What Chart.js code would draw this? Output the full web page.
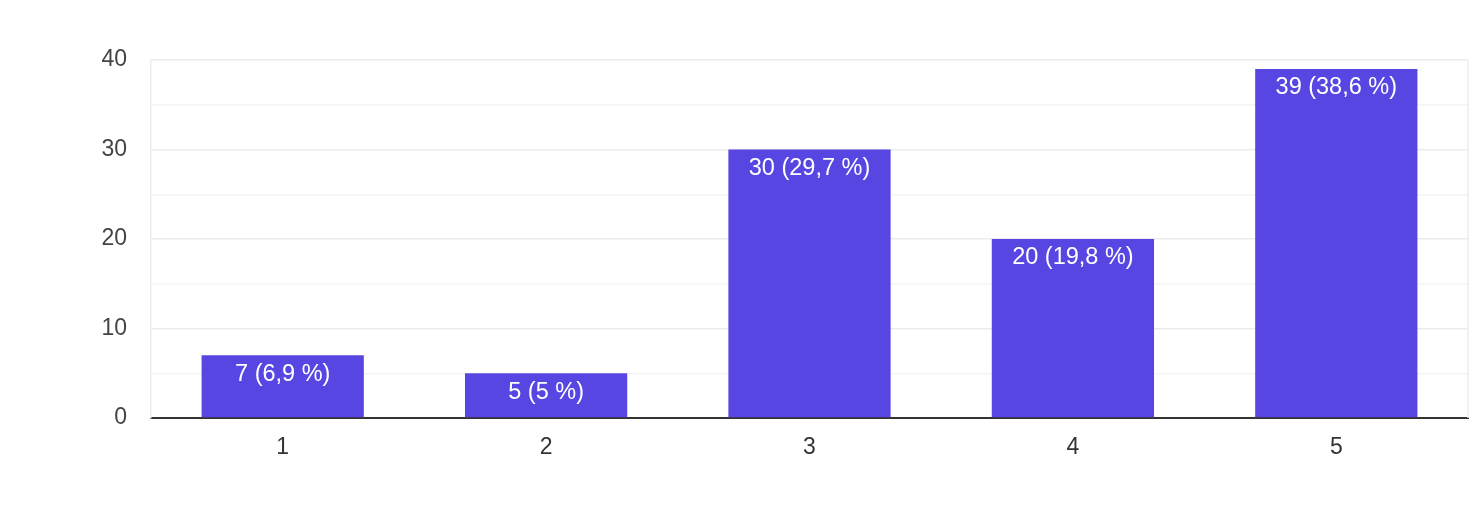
<!DOCTYPE html>
<html><head><meta charset="utf-8">
<script src="https://cdn.jsdelivr.net/npm/chart.js@4"></script>
<style>html,body{margin:0;padding:0;background:#fff;}#wrap{width:1479px;height:528px;}</style>
</head><body><div id="wrap"><canvas id="c"></canvas></div>
<script>
const categories = ['1','2','3','4','5'];
const counts = [7, 5, 30, 20, 39];
const percentLabels = ['6,9 %','5 %','29,7 %','19,8 %','38,6 %'];
const yTicks = [0, 10, 20, 30, 40];

const FONT = "'Liberation Sans', Arial, sans-serif";

const labelPlugin = {
  id: 'labels',
  afterDatasetsDraw(chart) {
    const ctx = chart.ctx;
    const meta = chart.getDatasetMeta(0);
    ctx.save();
    ctx.fillStyle = '#ffffff';
    ctx.font = '23.5px ' + FONT;
    ctx.textAlign = 'center';
    ctx.textBaseline = 'middle';
    meta.data.forEach((bar, i) => {
      ctx.fillText(counts[i] + ' (' + percentLabels[i] + ')', bar.x, bar.y + 19);
    });
    ctx.restore();
  }
};
const framePlugin = {
  id: 'frame',
  beforeDatasetsDraw(chart) {
    const a = chart.chartArea, ctx = chart.ctx;
    ctx.save();
    ctx.strokeStyle = '#ececec';
    ctx.lineWidth = 1.5;
    ctx.beginPath();
    ctx.moveTo(a.right, a.top); ctx.lineTo(a.right, a.bottom);
    ctx.stroke();
    ctx.restore();
  }
};

new Chart(document.getElementById('c'), {
  type: 'bar',
  data: {
    labels: categories,
    datasets: [{
      data: counts,
      backgroundColor: '#5846e2',
      barPercentage: 0.616,
      categoryPercentage: 1.0
    }]
  },
  options: {
    responsive: true,
    maintainAspectRatio: false,
    animation: false,
    devicePixelRatio: 1,
    layout: { padding: { left: 0, right: 11, top: 60, bottom: 0 } },
    plugins: { legend: { display: false }, tooltip: { enabled: false } },
    scales: {
      x: {
        grid: { display: false, drawTicks: false },
        border: { display: true, color: '#333333', width: 2 },
        ticks: { color: '#333333', font: { family: FONT, size: 23 }, padding: 16 },
        afterFit(s) { s.height = 110; }
      },
      y: {
        min: 0, max: 40,
        ticks: {
          stepSize: 5,
          color: '#444444',
          font: { family: FONT, size: 23 },
          padding: 24,
          callback: (v) => yTicks.includes(v) ? String(v) : ''
        },
        grid: {
          drawTicks: false,
          lineWidth: 1.5,
          color: (c) => {
            const v = c.tick ? c.tick.value : 0;
            if (v === 0) return 'rgba(0,0,0,0)';
            return (v % 10 === 0) ? '#ebebeb' : '#f4f4f4';
          }
        },
        border: { display: true, color: '#ececec', width: 1.5 },
        afterFit(s) { s.width = 151; }
      }
    }
  },
  plugins: [framePlugin, labelPlugin]
});
</script></body></html>
